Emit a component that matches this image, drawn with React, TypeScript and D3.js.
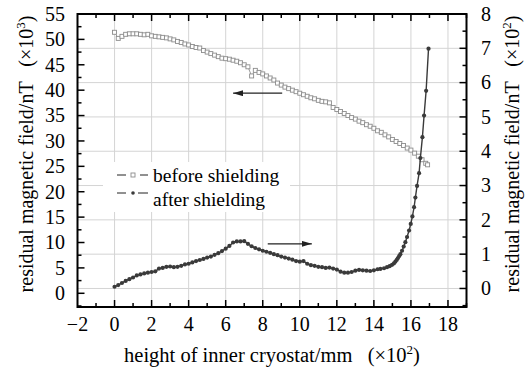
import { useRef, useEffect } from 'react';
import * as d3 from 'd3';

// before shielding (left axis, ×10^3 nT), x in ×10^2 mm
const beforeX = [
  0, 0.2, 0.4, 0.6, 0.8, 1.0, 1.2, 1.4, 1.6, 1.8, 2.0, 2.2, 2.4, 2.6, 2.8, 3.0, 3.2, 3.4, 3.6, 3.8,
  4.0, 4.2, 4.4, 4.6, 4.8, 5.0, 5.2, 5.4, 5.6, 5.8, 6.0, 6.2, 6.4, 6.6, 6.8, 7.0, 7.2, 7.4, 7.6, 7.8,
  8.0, 8.2, 8.4, 8.6, 8.8, 9.0, 9.2, 9.4, 9.6, 9.8, 10.0, 10.2, 10.4, 10.6, 10.8, 11.0, 11.2, 11.4, 11.6, 11.8,
  12.0, 12.2, 12.4, 12.6, 12.8, 13.0, 13.2, 13.4, 13.6, 13.8, 14.0, 14.2, 14.4, 14.6, 14.8, 15.0, 15.2, 15.4, 15.6, 15.8,
  16.0, 16.2, 16.4, 16.6, 16.8, 16.9,
];
const beforeY = [
  51.4, 50.2, 50.6, 51.0, 51.1, 51.1, 51.1, 51.0, 50.9, 51.0, 50.7, 50.6, 50.5, 50.4, 50.3, 50.1, 49.9, 49.6, 49.4, 49.1,
  48.9, 48.6, 48.4, 48.3, 47.8, 47.5, 47.2, 46.9, 46.6, 46.3, 46.2, 46.1, 45.9, 45.7, 45.4, 45.0, 44.6, 42.8, 43.9, 43.5,
  43.2, 42.8, 42.4, 42.0, 41.4, 41.0, 40.6, 40.3, 40.0, 39.7, 39.4, 39.1, 38.8, 38.5, 38.3, 38.0, 37.8, 37.7, 37.5, 36.6,
  36.2, 35.8, 35.4, 35.0, 34.6, 34.3, 33.9, 33.6, 33.2, 32.9, 32.5, 32.0, 31.7, 31.2, 30.8, 30.3, 29.9, 29.5, 29.1, 28.6,
  28.2, 27.6, 27.0, 26.3, 25.6, 25.3,
];

// after shielding (right axis, ×10^2 nT)
const afterX = [
  0, 0.2, 0.4, 0.6, 0.8, 1.0, 1.2, 1.4, 1.6, 1.8, 2.0, 2.2, 2.4, 2.6, 2.8, 3.0, 3.2, 3.4, 3.6, 3.8,
  4.0, 4.2, 4.4, 4.6, 4.8, 5.0, 5.2, 5.4, 5.6, 5.8, 6.0, 6.2, 6.4, 6.6, 6.8, 7.0, 7.2, 7.4, 7.6, 7.8,
  8.0, 8.2, 8.4, 8.6, 8.8, 9.0, 9.2, 9.4, 9.6, 9.8, 10.0, 10.2, 10.4, 10.6, 10.8, 11.0, 11.2, 11.4, 11.6, 11.8,
  12.0, 12.2, 12.4, 12.6, 12.8, 13.0, 13.2, 13.4, 13.6, 13.8, 14.0, 14.2, 14.35, 14.55, 14.71, 14.85, 14.98, 15.08, 15.16, 15.23,
  15.29, 15.36, 15.43, 15.52, 15.61, 15.70, 15.79, 15.90, 15.99, 16.08, 16.17, 16.24, 16.33, 16.44, 16.51, 16.62, 16.71, 16.82, 16.95,
];
const afterY = [
  0.05, 0.10, 0.16, 0.22, 0.27, 0.32, 0.38, 0.41, 0.44, 0.46, 0.48, 0.50, 0.58, 0.60, 0.63, 0.64, 0.62, 0.63, 0.66, 0.70,
  0.72, 0.76, 0.80, 0.83, 0.86, 0.90, 0.93, 0.98, 1.03, 1.09, 1.16, 1.24, 1.34, 1.37, 1.37, 1.38, 1.30, 1.23, 1.18, 1.14,
  1.10, 1.07, 1.04, 1.00, 0.97, 0.93, 0.90, 0.87, 0.84, 0.80, 0.78, 0.80, 0.72, 0.68, 0.66, 0.63, 0.62, 0.60, 0.61, 0.58,
  0.55, 0.49, 0.46, 0.46, 0.48, 0.52, 0.54, 0.53, 0.52, 0.51, 0.53, 0.56, 0.57, 0.59, 0.62, 0.65, 0.69, 0.73, 0.78, 0.83,
  0.88, 0.94, 1.00, 1.10, 1.22, 1.35, 1.50, 1.69, 1.88, 2.10, 2.37, 2.65, 2.99, 3.36, 3.80, 4.41, 5.04, 5.76, 6.99,
];

const xTicks = [-2, 0, 2, 4, 6, 8, 10, 12, 14, 16, 18];
const leftTicks = [0, 5, 10, 15, 20, 25, 30, 35, 40, 45, 50, 55];
const rightTicks = [0, 1, 2, 3, 4, 5, 6, 7, 8];
const legendLabels = ['before shielding', 'after shielding'];

const W = 526;
const H = 368;
const FONT = 'Liberation Serif';

export default function App() {
  const svgRef = useRef<SVGSVGElement>(null);

  useEffect(() => {
    const svg = d3.select(svgRef.current);
    svg.selectAll('*').remove();

    const left = 77.5, right = 466.5, top = 14, bottom = 307;
    const x = d3.scaleLinear().domain([-2, 19]).range([left, right]);
    const yL = d3.scaleLinear().domain([-2.7, 55]).range([bottom, top]);
    const yR = d3.scaleLinear().domain([-0.54, 8]).range([bottom, top]);

    svg.append('rect').attr('width', W).attr('height', H).attr('fill', '#fff');

    // grid
    const grid = svg.append('g').attr('stroke', '#d4d4d4').attr('stroke-width', 1);
    xTicks.filter((t) => t > -2).forEach((t) => {
      grid.append('line').attr('x1', x(t)).attr('x2', x(t)).attr('y1', top).attr('y2', bottom);
    });
    rightTicks.filter((t) => t < 8).forEach((t) => {
      grid.append('line').attr('x1', left).attr('x2', right).attr('y1', yR(t)).attr('y2', yR(t));
    });

    // legend background
    svg.append('rect').attr('x', 103).attr('y', 162).attr('width', 187).attr('height', 50).attr('fill', '#fff');

    // before shielding
    const beforeData = beforeX.map((v, i) => [v, beforeY[i]] as [number, number]);
    const lineL = d3.line<[number, number]>().x((d) => x(d[0])).y((d) => yL(d[1]));
    svg.append('path').attr('d', lineL(beforeData) || '').attr('fill', 'none')
      .attr('stroke', '#9a9a9a').attr('stroke-width', 1);
    svg.append('g').selectAll('rect').data(beforeData).join('rect')
      .attr('x', (d) => x(d[0]) - 2).attr('y', (d) => yL(d[1]) - 2)
      .attr('width', 4).attr('height', 4)
      .attr('fill', '#fff').attr('stroke', '#8c8c8c').attr('stroke-width', 0.9);

    // after shielding
    const afterData = afterX.map((v, i) => [v, afterY[i]] as [number, number]);
    const lineR = d3.line<[number, number]>().x((d) => x(d[0])).y((d) => yR(d[1]));
    svg.append('path').attr('d', lineR(afterData) || '').attr('fill', 'none')
      .attr('stroke', '#3a3a3a').attr('stroke-width', 1.4);
    svg.append('g').selectAll('circle').data(afterData).join('circle')
      .attr('cx', (d) => x(d[0])).attr('cy', (d) => yR(d[1])).attr('r', 2.1)
      .attr('fill', '#3a3a3a');

    // arrows
    const defs = svg.append('defs');
    defs.append('marker').attr('id', 'ah').attr('viewBox', '0 0 10 6')
      .attr('refX', 10).attr('refY', 3).attr('markerWidth', 10).attr('markerHeight', 6)
      .attr('markerUnits', 'userSpaceOnUse').attr('orient', 'auto')
      .append('path').attr('d', 'M0,0 L10,3 L0,6 Z').attr('fill', '#222');
    svg.append('line').attr('x1', x(9.05)).attr('x2', x(6.4)).attr('y1', yL(39.4)).attr('y2', yL(39.4))
      .attr('stroke', '#222').attr('stroke-width', 1.2).attr('marker-end', 'url(#ah)');
    svg.append('line').attr('x1', x(8.27)).attr('x2', x(10.65)).attr('y1', yR(1.3)).attr('y2', yR(1.3))
      .attr('stroke', '#222').attr('stroke-width', 1.2).attr('marker-end', 'url(#ah)');

    // frame
    svg.append('rect').attr('x', left).attr('y', top).attr('width', right - left).attr('height', bottom - top)
      .attr('fill', 'none').attr('stroke', '#000').attr('stroke-width', 2);

    // ticks
    const tk = svg.append('g').attr('stroke', '#000').attr('stroke-width', 1.5);
    for (let v = -1; v <= 19; v++) {
      const len = v % 2 === 0 ? 7 : 4;
      tk.append('line').attr('x1', x(v)).attr('x2', x(v)).attr('y1', bottom).attr('y2', bottom - len);
      tk.append('line').attr('x1', x(v)).attr('x2', x(v)).attr('y1', top).attr('y2', top + len);
    }
    for (let v = -2.5; v <= 55; v += 2.5) {
      if (v < -2.7) continue;
      const len = v % 5 === 0 ? 7 : 4;
      tk.append('line').attr('x1', left).attr('x2', left + len).attr('y1', yL(v)).attr('y2', yL(v));
    }
    for (let v = -0.5; v <= 8; v += 0.5) {
      const len = v % 1 === 0 ? 7 : 4;
      tk.append('line').attr('x1', right).attr('x2', right - len).attr('y1', yR(v)).attr('y2', yR(v));
    }

    // tick labels
    const txt = (g: any) => g.attr('font-family', FONT).attr('fill', '#000');
    xTicks.forEach((t) => {
      txt(svg.append('text')).attr('x', x(t)).attr('y', 331).attr('text-anchor', 'middle')
        .attr('font-size', 20).text(t < 0 ? `\u2212${-t}` : `${t}`);
    });
    leftTicks.forEach((t) => {
      txt(svg.append('text')).attr('x', 65).attr('y', yL(t) + 6.8).attr('text-anchor', 'end')
        .attr('font-size', 20).text(`${t}`);
    });
    rightTicks.forEach((t) => {
      txt(svg.append('text')).attr('x', 481).attr('y', yR(t) + 6.8).attr('text-anchor', 'start')
        .attr('font-size', 20).text(`${t}`);
    });

    // axis titles
    const title = (g: any, main: string, sup: string) => {
      g.style('white-space', 'pre');
      g.append('tspan').text(`${main}   (\u00d710`);
      g.append('tspan').attr('dy', -8).attr('font-size', 13).text(sup);
      g.append('tspan').attr('dy', 8).text(')');
    };
    const xt = txt(svg.append('text')).attr('x', 272).attr('y', 362).attr('text-anchor', 'middle').attr('font-size', 20.5);
    title(xt, 'height of inner cryostat/mm', '2');
    const ylt = txt(svg.append('text')).attr('transform', 'translate(33,154) rotate(-90)')
      .attr('text-anchor', 'middle').attr('font-size', 20);
    title(ylt, 'residual magnetic field/nT', '3');
    const yrt = txt(svg.append('text')).attr('transform', 'translate(519,154) rotate(-90)')
      .attr('text-anchor', 'middle').attr('font-size', 20);
    title(yrt, 'residual magnetic field/nT', '2');

    // legend
    const lg = svg.append('g');
    const rows = [175, 193];
    lg.append('line').attr('x1', 117).attr('x2', 126).attr('y1', rows[0]).attr('y2', rows[0]).attr('stroke', '#222');
    lg.append('line').attr('x1', 140).attr('x2', 148).attr('y1', rows[0]).attr('y2', rows[0]).attr('stroke', '#222');
    lg.append('rect').attr('x', 131).attr('y', rows[0] - 2).attr('width', 4).attr('height', 4)
      .attr('fill', '#fff').attr('stroke', '#8c8c8c').attr('stroke-width', 0.9);
    lg.append('line').attr('x1', 117).attr('x2', 126).attr('y1', rows[1]).attr('y2', rows[1]).attr('stroke', '#222');
    lg.append('line').attr('x1', 138).attr('x2', 148).attr('y1', rows[1]).attr('y2', rows[1]).attr('stroke', '#222');
    lg.append('circle').attr('cx', 133).attr('cy', rows[1]).attr('r', 1.8).attr('fill', '#3a3a3a');
    txt(lg.append('text')).attr('x', 153).attr('y', 182).attr('font-size', 19.5).text(legendLabels[0]);
    txt(lg.append('text')).attr('x', 153).attr('y', 206).attr('font-size', 19.5).text(legendLabels[1]);
  }, []);

  return (
    <svg
      ref={svgRef}
      width={W}
      height={H}
      style={{ position: 'absolute', left: 0, top: 0, display: 'block' }}
    />
  );
}
